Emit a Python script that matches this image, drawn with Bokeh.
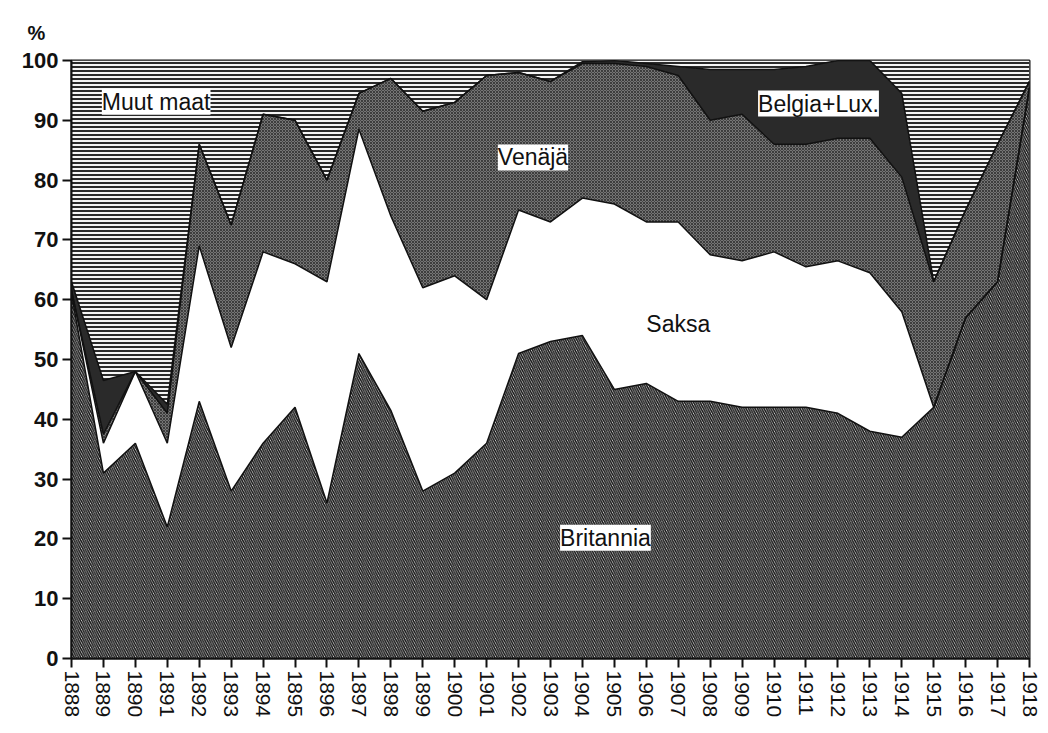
import numpy as np
from bokeh.plotting import figure
from bokeh.models import ColumnDataSource, Label, FixedTicker, Range1d
from bokeh.transform import stack
from bokeh.embed import file_html
from bokeh.resources import INLINE

years = list(range(1888, 1919))
britannia = [61, 31, 36, 22, 43, 28, 36, 42, 26, 51, 41.5, 28, 31, 36, 51, 53, 54, 45, 46, 43,
             43, 42, 42, 42, 41, 38, 37, 42, 57, 63, 95.5]
saksa = [0.5, 5, 12, 14, 26, 24, 32, 24, 37, 37.5, 32.5, 34, 33, 24, 24, 20, 23, 31, 27, 30,
         24.5, 24.5, 26, 23.5, 25.5, 26.5, 21, 0, 0, 0, 0]
venaja = [0, 1.5, 0, 5, 17, 20.5, 23, 24, 17, 6, 23, 29.5, 29, 37.5, 23, 23.5, 22.5, 23.5, 26, 24.5,
          22.5, 24.5, 18, 20.5, 20.5, 22.5, 22.5, 21, 18, 23, 1]
belgia = [1.5, 9, 0, 1.5, 0, 0, 0, 0, 0, 0, 0, 0, 0, 0, 0, 0, 0.3, 0.5, 0.5, 1.5,
          8.5, 7.5, 12.5, 13, 13, 13, 14, 0, 0, 0, 0]
muut = [37, 53.5, 52, 57.5, 14, 27.5, 9, 10, 20, 5.5, 3, 8.5, 7, 2.5, 2, 3.5, 0.2, 0, 0.5, 1,
        1.5, 1.5, 1.5, 1, 0, 0, 5.5, 37, 25, 14, 3.5]

names = ["britannia", "saksa", "venaja", "belgia", "muut"]
src = ColumnDataSource(dict(year=years, britannia=britannia, saksa=saksa, venaja=venaja,
                            belgia=belgia, muut=muut))

p = figure(width=1040, height=725, output_backend="svg", toolbar_location=None,
           x_range=Range1d(1888, 1918), y_range=Range1d(0, 100),
           min_border_left=71, min_border_right=11, min_border_top=60, min_border_bottom=67)
p.background_fill_color = "white"
p.border_fill_color = "white"
p.outline_line_color = "#111111"
p.outline_line_width = 2
p.grid.visible = False

p.title.text = "%"
p.title.align = "left"
p.title.offset = -44
p.title.standoff = 30
p.title.vertical_align = "top"
p.title.text_font = "Liberation Sans"
p.title.text_font_size = "20px"
p.title.text_font_style = "bold"
p.title.text_color = "#111111"

styles = [
    dict(fill_color="#e8e8e8", hatch_pattern="\\", hatch_scale=4.5, hatch_weight=1.5, hatch_color="#151515"),
    dict(fill_color="white"),
    dict(fill_color="#757575", hatch_pattern="x", hatch_scale=3, hatch_weight=0.8, hatch_color="#2e2e2e"),
    dict(fill_color="#2a2a2a"),
    dict(fill_color="#f4f4f4", hatch_pattern="-", hatch_scale=4, hatch_weight=2.0, hatch_color="#2a2a2a"),
]
for i, nm in enumerate(names):
    lower = names[:i]
    upper = names[:i + 1]
    p.varea(x="year", y1=stack(*lower) if lower else 0, y2=stack(*upper), source=src, **styles[i])

cum = np.cumsum(np.array([britannia, saksa, venaja, belgia]), axis=0)
for row in cum:
    p.line(years, row, line_color="#111111", line_width=1.5)

p.xaxis.ticker = FixedTicker(ticks=years)
p.yaxis.ticker = FixedTicker(ticks=list(range(0, 101, 10)))
for ax in (p.xaxis, p.yaxis):
    ax.axis_line_color = "#111111"
    ax.axis_line_width = 2
    ax.major_tick_line_color = "#111111"
    ax.major_tick_line_width = 2
    ax.major_tick_in = 0
    ax.major_tick_out = 9
    ax.minor_tick_line_color = None
    ax.major_label_text_font = "Liberation Sans"
    ax.major_label_text_color = "#111111"
p.yaxis.major_label_text_font_size = "22px"
p.yaxis.major_label_text_font_style = "bold"
p.yaxis.major_label_standoff = 4
p.xaxis.major_label_text_font_size = "21px"
p.xaxis.major_label_orientation = "vertical"
p.xaxis.major_label_standoff = 3

lab = dict(text_font="Liberation Sans", text_font_size="23px", text_color="#111111",
           text_baseline="middle", text_align="left")
p.add_layout(Label(x=1888.95, y=93.1, text="Muut maat", background_fill_color="white", **lab))
p.add_layout(Label(x=1901.35, y=83.8, text="Venäjä", background_fill_color="white", **lab))
p.add_layout(Label(x=1909.5, y=92.8, text="Belgia+Lux.", background_fill_color="white", **lab))
p.add_layout(Label(x=1906.0, y=56.0, text="Saksa", **lab))
p.add_layout(Label(x=1903.3, y=20.2, text="Britannia", background_fill_color="white", **lab))

open("out.html", "w").write(file_html(p, INLINE))
